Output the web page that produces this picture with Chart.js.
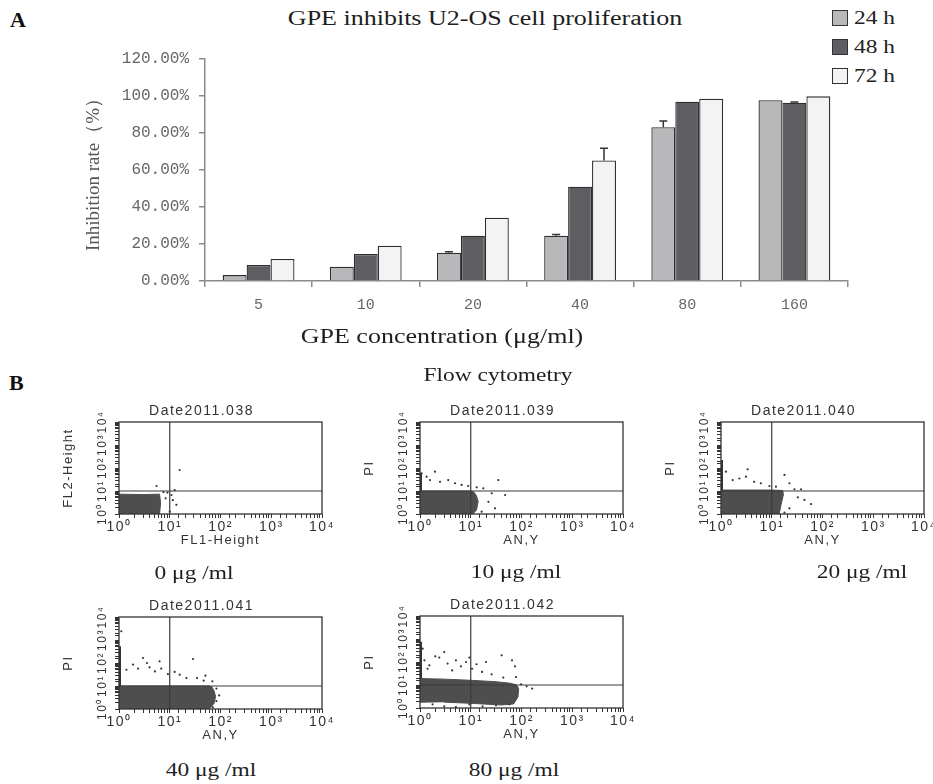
<!DOCTYPE html>
<html>
<head>
<meta charset="utf-8">
<script src="https://cdn.jsdelivr.net/npm/chart.js@4.4.1/dist/chart.umd.min.js"></script>
<style>
  body { margin:0; background:#fff; width:933px; height:784px; position:relative; overflow:hidden; }
  .box { position:absolute; }
  .lbl { position:absolute; white-space:nowrap; line-height:1; transform:translate(-50%,-50%) scaleX(1.3);
         font-family:"Liberation Serif","Times New Roman",serif; color:#1e1e1e; }
  .panel { position:absolute; font-family:"Liberation Serif",serif; font-weight:bold; font-size:22px; color:#111; line-height:1; }
  .leg { position:absolute; left:832px; height:16px; display:flex; align-items:center; }
  .leg span.sq { width:14px; height:14px; border:1px solid #333; display:inline-block; }
  .leg span.tx { font-family:"Liberation Serif",serif; font-size:18px; color:#222; margin-left:6px; display:inline-block;
                 transform:scaleX(1.3); transform-origin:left center; }
</style>
</head>
<body>

<div class="panel" style="left:10px;top:9px">A</div>
<div class="lbl" style="left:485px;top:18px;font-size:20px">GPE inhibits U2-OS cell proliferation</div>
<div id="legendA"></div>
<div class="box" style="left:0;top:0;width:933px;height:355px"><canvas id="chartA"></canvas></div>
<div class="lbl" style="left:442px;top:336px;font-size:20px">GPE concentration (μg/ml)</div>

<div class="panel" style="left:9px;top:372px">B</div>
<div class="lbl" style="left:498px;top:375px;font-size:18px">Flow cytometry</div>

<div class="box" style="left:60px;top:380px;width:283px;height:170px"><canvas id="flow0"></canvas></div>
<div class="box" style="left:361px;top:380px;width:283px;height:170px"><canvas id="flow1"></canvas></div>
<div class="box" style="left:662px;top:380px;width:283px;height:170px"><canvas id="flow2"></canvas></div>
<div class="box" style="left:60px;top:575px;width:283px;height:170px"><canvas id="flow3"></canvas></div>
<div class="box" style="left:361px;top:574px;width:283px;height:170px"><canvas id="flow4"></canvas></div>

<div class="lbl" style="left:194px;top:573px;font-size:18px">0 μg /ml</div>
<div class="lbl" style="left:516px;top:572px;font-size:18px">10 μg /ml</div>
<div class="lbl" style="left:862px;top:572px;font-size:18px">20 μg /ml</div>
<div class="lbl" style="left:211px;top:770px;font-size:18px">40 μg /ml</div>
<div class="lbl" style="left:514px;top:770px;font-size:18px">80 μg /ml</div>

<script>
// ---------------- données du graphe A (taux d'inhibition en %) ----------------
const concentrations = ['5', '10', '20', '40', '80', '160']
const seriesLabels = ['24 h', '48 h', '72 h']
const rate24 = [3.2, 7.7, 15.3, 24.5, 83.1, 97.7]
const rate48 = [8.6, 14.6, 24.5, 51.0, 96.9, 96.4]
const rate72 = [11.9, 19.1, 34.2, 65.2, 98.5, 99.8]
const err24 = [0, 0, 0.5, 0.6, 3.4, 0]
const err48 = [0, 0, 0, 0, 0, 0.4]
const err72 = [0, 0, 0, 6.5, 0, 0]
const barColors = ['#b8b8ba', '#5e5e62', '#f3f3f3']

// ---------------- données des cytométries (x = AN,Y ; y = PI, échelle log) ----------------
const flowTitles = ['Date2011.038', 'Date2011.039', 'Date2011.040', 'Date2011.041', 'Date2011.042']
const flowXLabels = ['FL1-Height', 'AN,Y', 'AN,Y', 'AN,Y', 'AN,Y']
const flowYLabels = ['FL2-Height', 'PI', 'PI', 'PI', 'PI']

// contour du nuage dense de chaque échantillon
const cloud0 = [[1, 1], [1, 7.3], [3, 7], [6.3, 7.3], [6.6, 3], [6.3, 1]]
const cloud1 = [[1, 1], [1, 10], [10, 10], [11.5, 9], [13, 6], [14, 3.5], [13, 1.5], [11, 1]]
const cloud2 = [[1, 1], [1, 11], [10, 11], [16.4, 10.5], [17, 7], [15.5, 3], [14, 1]]
const cloud3 = [[1, 1], [1, 10], [60, 10], [68, 9], [75, 6], [80, 3.5], [75, 1.8], [65, 1.2], [60, 1]]
const cloud4 = [[1, 1.7], [1, 19], [3, 18], [10, 16], [30, 14], [60, 12], [80, 10], [88, 7], [85, 3], [70, 1.5], [40, 1.35], [10, 1.6], [3, 1.8]]

// amas d'évènements collés à l'axe PI (x = 10^0)
const pile0 = null
const pile1 = [10, 60]
const pile2 = [10, 220]
const pile3 = [10, 530]
const pile4 = [19, 760]

// évènements isolés
const dots0 = [[15.7, 82], [5.5, 16.5], [8.3, 4.8], [10.8, 6.7], [13.5, 2.5], [12.5, 11], [10, 1.26], [7.5, 9], [9, 8.5], [11.5, 4]]
const dots1 = [[1.08, 59], [1.35, 42], [1.97, 69], [1.57, 30], [2.48, 25], [3.6, 30], [4.9, 21.7], [6.6, 18.3], [8.9, 16.5],
  [13.1, 14.5], [17.7, 13.1], [25.9, 7.9], [34.9, 30], [47.5, 6.7], [22.3, 3.4], [30, 1.77], [16.4, 1.26]]
const dots2 = [[1.25, 69], [1.7, 30], [2.3, 35], [3.35, 88], [3.1, 42], [4.5, 25], [6.1, 21.7], [9, 16.5], [12.1, 15.4],
  [17.8, 50], [22.3, 21.7], [28, 11.9], [37.8, 11.9], [32.6, 5.3], [44, 4.1], [59.5, 2.7], [22.3, 1.77], [17.8, 1.14]]
const dots3 = [[1.11, 2400], [1.4, 51], [1.89, 85], [2.37, 57], [2.97, 165], [3.56, 100], [4, 65], [5.1, 43], [6.3, 118],
  [6.8, 57], [9.2, 33], [12.5, 41], [15.7, 31], [21.3, 22], [28.7, 149], [34.5, 22], [46.6, 17], [50.5, 28], [69, 16],
  [83, 7.7], [94, 3.9], [83, 2.2], [71, 1.18]]
const dots4 = [[1.13, 380], [1.22, 118], [1.41, 51], [1.53, 72], [2, 177], [2.4, 155], [3, 270], [3.5, 85], [4.3, 43],
  [5.1, 118], [6.4, 65], [8.1, 100], [9.4, 155], [10.6, 51], [13, 80], [16.7, 37], [20, 100], [25.8, 29], [40.6, 195],
  [43.8, 21], [65, 118], [74.5, 65], [78, 22], [98, 10.7], [126, 8.8], [162, 7],
  [1.77, 1.45], [3, 1.18], [5.1, 1.1], [9.4, 1.45], [17.1, 1.18], [31.5, 1.31], [57.5, 1.45]]

const flowClouds = [cloud0, cloud1, cloud2, cloud3, cloud4]
const flowPiles = [pile0, pile1, pile2, pile3, pile4]
const flowDots = [dots0, dots1, dots2, dots3, dots4]

const SUP = ['⁰', '¹', '²', '³', '⁴']

// ---------------- légende HTML ----------------
const legendA = document.getElementById('legendA')
const legendTops = [10, 39, 68]
seriesLabels.forEach((lab, i) => {
  const row = document.createElement('div')
  row.className = 'leg'
  row.style.top = legendTops[i] + 'px'
  row.innerHTML = '<span class="sq" style="background:' + barColors[i] + '"></span><span class="tx">' + lab + '</span>'
  legendA.appendChild(row)
})

// barres d'erreur (au-dessus de chaque barre)
const errorBars = {
  id: 'errorBars',
  afterDatasetsDraw(chart) {
    const ctx = chart.ctx
    const yScale = chart.scales.y
    chart.data.datasets.forEach((ds, i) => {
      const meta = chart.getDatasetMeta(i)
      meta.data.forEach((bar, j) => {
        const e = ds.errors[j]
        if (!e) return
        const yTop = yScale.getPixelForValue(ds.data[j] + e)
        ctx.save()
        ctx.strokeStyle = '#333'
        ctx.lineWidth = 1.5
        ctx.beginPath()
        ctx.moveTo(bar.x, bar.y)
        ctx.lineTo(bar.x, yTop)
        ctx.moveTo(bar.x - 4, yTop)
        ctx.lineTo(bar.x + 4, yTop)
        ctx.stroke()
        ctx.restore()
      })
    })
  }
}

// ---------------- graphe A ----------------
const rates = [rate24, rate48, rate72]
const errs = [err24, err48, err72]

new Chart(document.getElementById('chartA'), {
  type: 'bar',
  data: {
    labels: concentrations,
    datasets: seriesLabels.map((lab, i) => ({
      label: lab,
      data: rates[i],
      errors: errs[i],
      backgroundColor: barColors[i],
      borderColor: '#2e2e2e',
      borderWidth: 1.3,
      categoryPercentage: 0.67,
      barPercentage: 1
    }))
  },
  options: {
    responsive: true,
    maintainAspectRatio: false,
    animation: false,
    events: [],
    layout: { padding: { left: 80, right: 85, top: 59, bottom: 0 } },
    plugins: { legend: { display: false }, tooltip: { enabled: false } },
    scales: {
      x: {
        afterFit(s) { s.height = 74 },
        border: { display: true, color: '#8a8a8a', width: 1.5 },
        grid: { drawOnChartArea: false, tickLength: 6, color: '#8a8a8a', lineWidth: 1.5 },
        ticks: { color: '#666', padding: 9, font: { family: 'Liberation Mono', size: 15 } }
      },
      y: {
        min: 0,
        max: 120,
        afterFit(s) { s.width = 125 },
        border: { display: true, color: '#8a8a8a', width: 1.5 },
        grid: { drawOnChartArea: false, tickLength: 6, color: '#8a8a8a', lineWidth: 1.5 },
        ticks: {
          stepSize: 20,
          color: '#666',
          padding: 10,
          font: { family: 'Liberation Mono', size: 16 },
          callback: v => v.toFixed(2) + '%'
        },
        title: {
          display: true,
          text: 'Inhibition rate（%）',
          color: '#555',
          padding: { top: 3, bottom: 0 },
          font: { family: 'Liberation Serif', size: 19 }
        }
      }
    }
  },
  plugins: [errorBars]
})

// ---------------- cytométries ----------------
const frame = {
  id: 'frame',
  beforeDraw(chart) {
    chart.ctx.letterSpacing = '1.5px'
  },
  afterDraw(chart) {
    const { ctx, chartArea: a } = chart
    ctx.save()
    ctx.strokeStyle = '#333'
    ctx.lineWidth = 1.3
    ctx.strokeRect(a.left, a.top, a.right - a.left, a.bottom - a.top)
    ctx.restore()
  }
}

function powLabel(v) {
  const e = Math.log10(v)
  const r = Math.round(e)
  if (Math.abs(e - r) < 1e-6 && r >= 0 && r <= 4) return '10' + SUP[r]
  return ''
}

const toXY = arr => arr.map(p => ({ x: p[0], y: p[1] }))

function makeFlow(k) {
  const datasets = [
    { data: [{ x: 10, y: 1 }, { x: 10, y: 10000 }], showLine: true, borderColor: '#3a3a3a', borderWidth: 1.2, pointRadius: 0 },
    { data: [{ x: 1, y: 10 }, { x: 10000, y: 10 }], showLine: true, borderColor: '#3a3a3a', borderWidth: 1.2, pointRadius: 0 },
    { data: toXY(flowDots[k]), pointRadius: 1.1, backgroundColor: '#333', borderWidth: 0 }
  ]
  if (flowPiles[k]) {
    datasets.push({ data: [{ x: 1, y: flowPiles[k][0] }, { x: 1, y: flowPiles[k][1] }], showLine: true,
      borderColor: '#333', borderWidth: 4, pointRadius: 0 })
  }
  datasets.push({ data: toXY(flowClouds[k]), showLine: true, fill: 'shape', backgroundColor: '#4e4e4e',
    borderColor: '#4e4e4e', borderWidth: 1, pointRadius: 0 })

  const xTickFont = { family: 'Liberation Sans', size: 14 }
  const yTickFont = { family: 'Liberation Sans', size: 12 }
  new Chart(document.getElementById('flow' + k), {
    type: 'scatter',
    data: { datasets },
    options: {
      responsive: true,
      maintainAspectRatio: false,
      animation: false,
      events: [],
      layout: { padding: 0 },
      plugins: {
        legend: { display: false },
        tooltip: { enabled: false },
        title: {
          display: true,
          text: flowTitles[k],
          color: '#333',
          font: { family: 'Liberation Sans', size: 14, weight: 'normal' },
          padding: { top: 23, bottom: 2.2 }
        }
      },
      scales: {
        x: {
          type: 'logarithmic',
          min: 1,
          max: 10000,
          afterFit(s) { s.height = 36 },
          border: { display: false },
          grid: { drawOnChartArea: false, tickLength: 4, color: '#333' },
          ticks: { autoSkip: false, minRotation: 0, maxRotation: 0, padding: 1, color: '#333', font: xTickFont, callback: powLabel },
          title: { display: true, text: flowXLabels[k], color: '#333', font: { family: 'Liberation Sans', size: 13 }, padding: { top: 0, bottom: 1.5 } }
        },
        y: {
          type: 'logarithmic',
          min: 1,
          max: 10000,
          afterFit(s) { s.width = 59 },
          border: { display: false },
          grid: { drawOnChartArea: false, tickLength: 4, color: '#333' },
          ticks: { autoSkip: false, minRotation: 90, maxRotation: 90, crossAlign: 'center', padding: 3, color: '#333', font: yTickFont, callback: powLabel },
          title: { display: true, text: flowYLabels[k], color: '#333', font: { family: 'Liberation Sans', size: 13 }, padding: { top: 1, bottom: 0 } }
        },
        y2: {
          position: 'right',
          afterFit(s) { s.width = 21 },
          border: { display: false },
          grid: { display: false },
          ticks: { display: false }
        }
      }
    },
    plugins: [frame]
  })
}

for (let k = 0; k < 5; k++) makeFlow(k)
</script>
</body>
</html>
